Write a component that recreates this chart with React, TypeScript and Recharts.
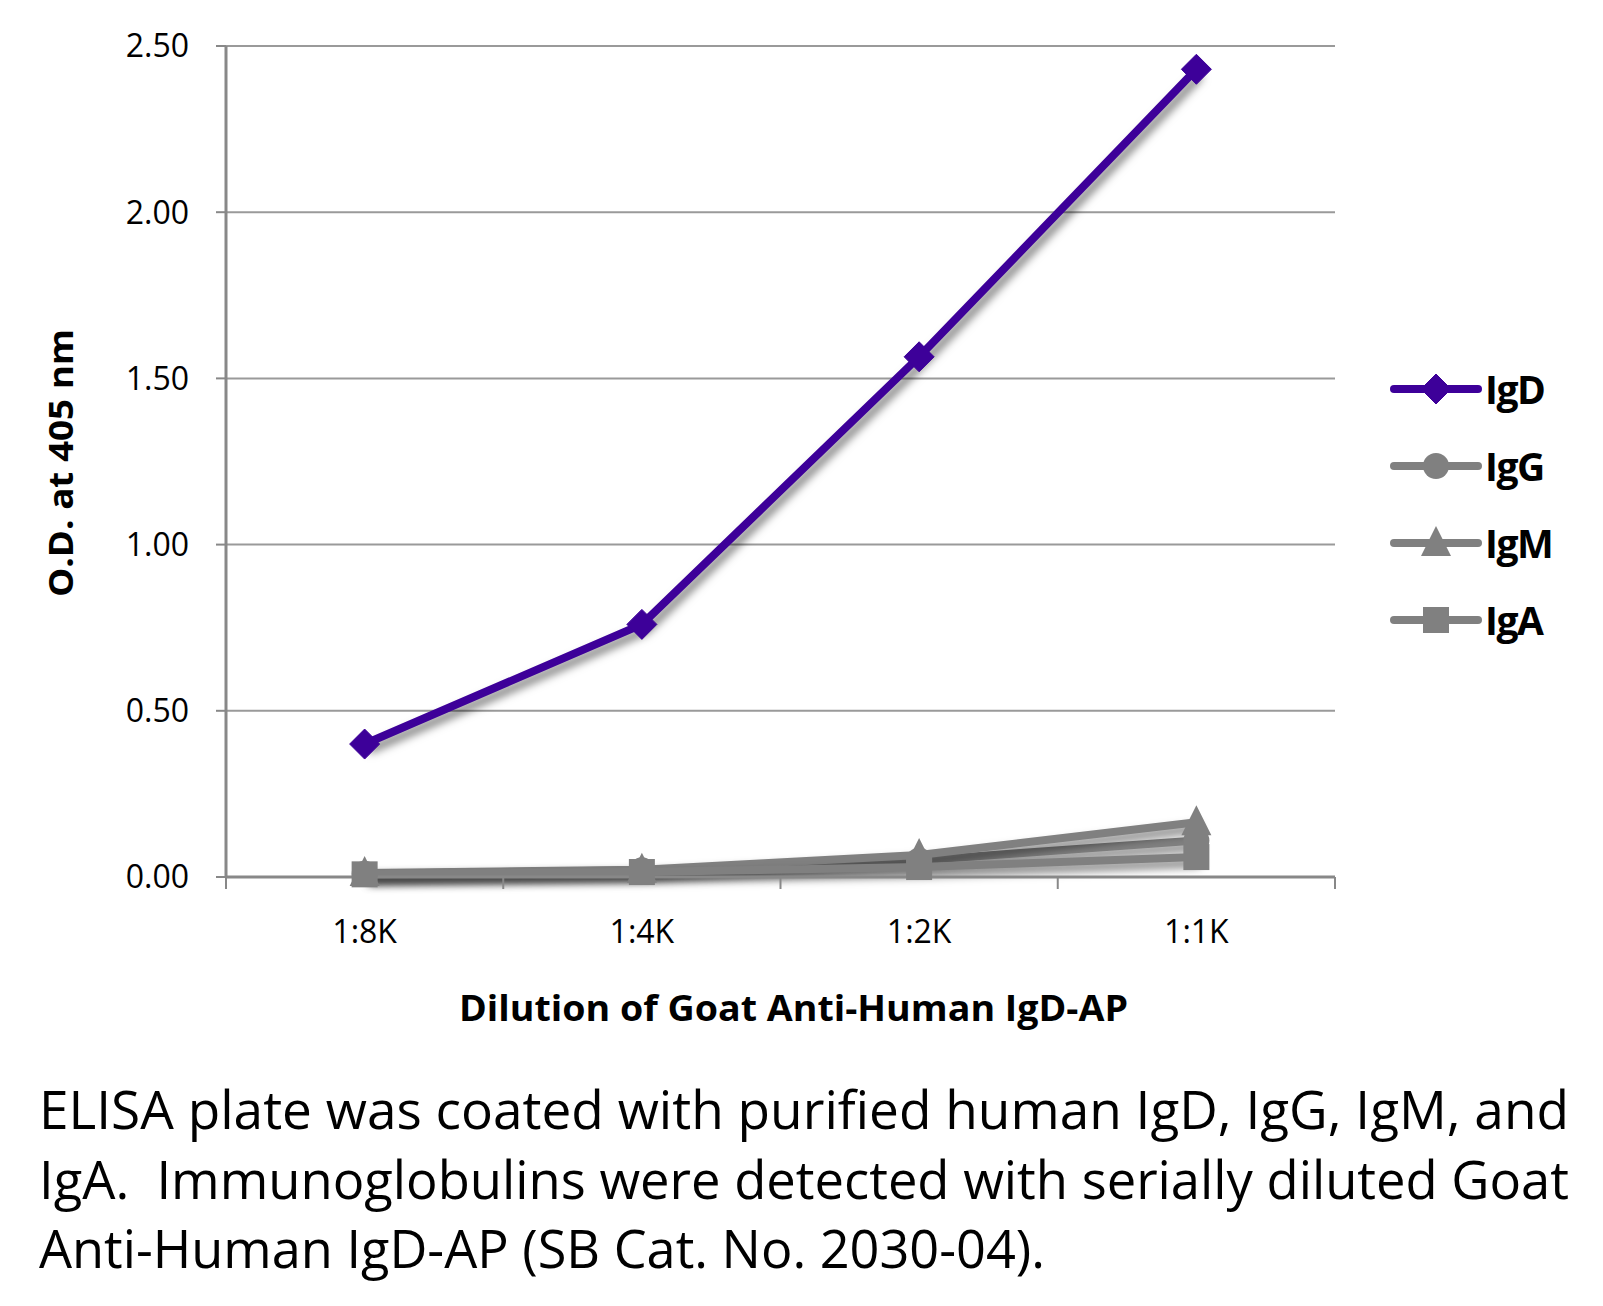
import React from "react";
import {
  LineChart,
  Line,
  XAxis,
  YAxis,
  CartesianGrid,
  Legend,
} from "recharts";

// dilution steps, left to right
const dilutions = ["1:8K", "1:4K", "1:2K", "1:1K"];

// O.D. at 405 nm
const igdValues = [0.4, 0.76, 1.565, 2.43];
const iggValues = [0.01, 0.02, 0.05, 0.11];
const igmValues = [0.012, 0.022, 0.066, 0.165];
const igaValues = [0.008, 0.015, 0.03, 0.06];

const seriesOrder = ["IgD", "IgG", "IgM", "IgA"];
const yTicks = [0, 0.5, 1, 1.5, 2, 2.5];

const PURPLE = "#3d0099";
const GRAY = "#808080";
const FONT = "'Open Sans', 'Noto Sans', sans-serif";

// points sit in the middle of each category band (band i spans i..i+1)
const data = dilutions.map((d, i) => ({
  x: i + 0.5,
  label: d,
  IgD: igdValues[i],
  IgG: iggValues[i],
  IgM: igmValues[i],
  IgA: igaValues[i],
}));

const xTicks: number[] = [];
for (let i = 0; i <= dilutions.length; i++) {
  xTicks.push(i);
  if (i < dilutions.length) xTicks.push(i + 0.5);
}

function marker(kind: string, cx: number, cy: number, color: string, key?: any) {
  if (kind === "diamond") {
    const r = 15;
    return (
      <path
        key={key}
        d={`M${cx},${cy - r}L${cx + r},${cy}L${cx},${cy + r}L${cx - r},${cy}Z`}
        fill={color}
        stroke={color}
        strokeWidth={1}
        strokeLinejoin="round"
      />
    );
  }
  if (kind === "circle") {
    return <circle key={key} cx={cx} cy={cy} r={13} fill={color} />;
  }
  if (kind === "triangle") {
    const s = 15;
    return (
      <path
        key={key}
        d={`M${cx},${cy - s - 2}L${cx + s},${cy + s - 2}L${cx - s},${cy + s - 2}Z`}
        fill={color}
        strokeLinejoin="round"
      />
    );
  }
  const h = 13;
  return <rect key={key} x={cx - h} y={cy - h} width={2 * h} height={2 * h} fill={color} />;
}

const markerFor: Record<string, string> = {
  IgD: "diamond",
  IgG: "circle",
  IgM: "triangle",
  IgA: "square",
};

const makeDot = (kind: string, color: string) => (props: any) => {
  const { cx, cy, index } = props;
  if (cx == null || cy == null) return <g key={`e-${index}`} />;
  return marker(kind, cx, cy, color, `${kind}-${index}`);
};

const XTick = (props: any) => {
  const { x, y, payload } = props;
  const v = payload.value;
  if (Number.isInteger(v)) {
    return <line x1={x} y1={y} x2={x} y2={y + 12} stroke="#888" strokeWidth={2} />;
  }
  const idx = Math.floor(v);
  return (
    <text
      x={x}
      y={y + 53}
      textAnchor="middle"
      dominantBaseline="central"
      fontSize={32}
      fontFamily={FONT}
      fill="#000"
    >
      {dilutions[idx]}
    </text>
  );
};

const renderLegend = (props: any) => {
  const payload = [...(props.payload || [])].sort(
    (a: any, b: any) =>
      seriesOrder.indexOf(a.dataKey ?? a.value) - seriesOrder.indexOf(b.dataKey ?? b.value)
  );
  return (
    <div>
      {payload.map((p: any) => {
        const key = p.dataKey ?? p.value;
        const color = p.color;
        return (
          <div
            key={key}
            style={{ display: "flex", alignItems: "center", height: 77 }}
          >
            <svg width={97} height={40}>
              <line
                x1={6}
                y1={20}
                x2={90}
                y2={20}
                stroke={color}
                strokeWidth={8}
                strokeLinecap="round"
              />
              {marker(markerFor[key], 48, 20, color)}
            </svg>
            <span
              style={{
                fontFamily: FONT,
                fontWeight: 700,
                fontSize: 39,
                color: "#000",
                letterSpacing: -1.5,
              }}
            >
              {p.value}
            </span>
          </div>
        );
      })}
    </div>
  );
};

export default function App() {
  return (
    <div
      style={{
        position: "absolute",
        left: 0,
        top: 0,
        width: 1603,
        height: 1306,
        background: "#fff",
        overflow: "hidden",
      }}
    >
      <style>{`.recharts-line { filter: drop-shadow(4px 6px 4px rgba(0,0,0,0.5)); }`}</style>
      <LineChart
        width={1603}
        height={1000}
        data={data}
        margin={{ top: 46, right: 268, left: 0, bottom: 63 }}
      >
        <CartesianGrid vertical={false} stroke="#9a9a9a" strokeWidth={2} />
        <XAxis
          dataKey="x"
          type="number"
          domain={[0, dilutions.length]}
          ticks={xTicks}
          interval={0}
          tick={<XTick />}
          tickLine={false}
          tickSize={0}
          tickMargin={0}
          axisLine={{ stroke: "#888", strokeWidth: 3 }}
          height={60}
        />
        <YAxis
          domain={[0, 2.5]}
          ticks={yTicks}
          tickFormatter={(v: number) => v.toFixed(2)}
          width={226}
          tickSize={10}
          tickMargin={27}
          axisLine={{ stroke: "#888", strokeWidth: 3 }}
          tickLine={{ stroke: "#888", strokeWidth: 2 }}
          tick={{ fontSize: 32, fill: "#000", fontFamily: FONT }}
        />
        <Legend
          content={renderLegend}
          layout="vertical"
          align="center"
          verticalAlign="middle"
          wrapperStyle={{ left: 1388, top: 350, width: 210, height: 320 }}
        />
        <Line
          dataKey="IgD"
          name="IgD"
          stroke={PURPLE}
          strokeWidth={8}
          dot={makeDot("diamond", PURPLE)}
          activeDot={false}
          isAnimationActive={false}
        />
        <Line
          dataKey="IgG"
          name="IgG"
          stroke={GRAY}
          strokeWidth={8}
          dot={makeDot("circle", GRAY)}
          activeDot={false}
          isAnimationActive={false}
        />
        <Line
          dataKey="IgM"
          name="IgM"
          stroke={GRAY}
          strokeWidth={8}
          dot={makeDot("triangle", GRAY)}
          activeDot={false}
          isAnimationActive={false}
        />
        <Line
          dataKey="IgA"
          name="IgA"
          stroke={GRAY}
          strokeWidth={8}
          dot={makeDot("square", GRAY)}
          activeDot={false}
          isAnimationActive={false}
        />
      </LineChart>

      <svg
        width={1603}
        height={1306}
        style={{ position: "absolute", left: 0, top: 0, pointerEvents: "none" }}
      >
        <text
          transform="translate(73,463) rotate(-90)"
          textAnchor="middle"
          fontFamily={FONT}
          fontWeight={700}
          fontSize={34}
          textLength={268}
          lengthAdjust="spacingAndGlyphs"
        >
          O.D. at 405 nm
        </text>
        <text
          x={459}
          y={1021}
          fontFamily={FONT}
          fontWeight={700}
          fontSize={36}
          textLength={669}
          lengthAdjust="spacingAndGlyphs"
        >
          Dilution of Goat Anti-Human IgD-AP
        </text>
        <g fontFamily={FONT} fontSize={53} fill="#000">
          <text x={39} y={1129} textLength={1530} lengthAdjust="spacingAndGlyphs">
            ELISA plate was coated with purified human IgD, IgG, IgM, and
          </text>
          <text x={39} y={1199} textLength={1530} lengthAdjust="spacingAndGlyphs">
            {"IgA.\u00a0 Immunoglobulins were detected with serially diluted Goat"}
          </text>
          <text x={39} y={1268} textLength={1006} lengthAdjust="spacingAndGlyphs">
            Anti-Human IgD-AP (SB Cat. No. 2030-04).
          </text>
        </g>
      </svg>
    </div>
  );
}
